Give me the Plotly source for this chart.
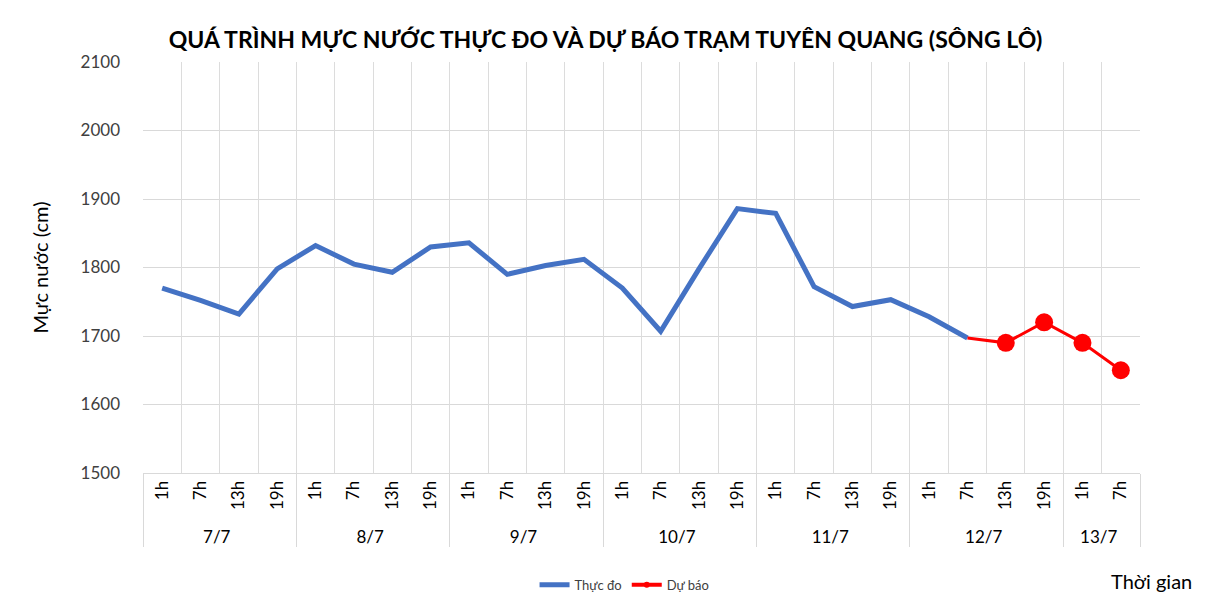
import plotly.graph_objects as go

days = ["7/7"] * 4 + ["8/7"] * 4 + ["9/7"] * 4 + ["10/7"] * 4 + ["11/7"] * 4 + ["12/7"] * 4 + ["13/7"] * 2
hours = ["1h", "7h", "13h", "19h"] * 6 + ["1h", "7h"]

observed = [1770, 1752, 1732, 1798, 1832, 1805, 1793, 1830, 1836, 1790, 1803, 1812,
            1770, 1707, 1798, 1886, 1879, 1772, 1743, 1753, 1728, 1697]
forecast = [1697, 1690, 1720, 1690, 1650]
forecast_start = 21

y_ticks = [1500, 1600, 1700, 1800, 1900, 2000, 2100]

n = len(days)
obs_x = [days[:len(observed)], hours[:len(observed)]]
fc_x = [days[forecast_start:forecast_start + len(forecast)], hours[forecast_start:forecast_start + len(forecast)]]

fig = go.Figure()
fig.add_trace(go.Scatter(x=obs_x, y=observed, mode="lines", name="Thực đo",
                         line=dict(color="#4472C4", width=5)))
fig.add_trace(go.Scatter(x=fc_x, y=forecast, mode="lines+markers", name="Dự báo",
                         line=dict(color="#FF0000", width=3), showlegend=False,
                         marker=dict(color="#FF0000", opacity=1, line=dict(width=0),
                                     size=[0] + [18] * (len(forecast) - 1))))
# legend entry for the forecast series (small marker like the reference legend)
fig.add_trace(go.Scatter(x=[fc_x[0][:1], fc_x[1][:1]], y=[None], mode="lines+markers", name="Dự báo",
                         line=dict(color="#FF0000", width=4),
                         marker=dict(color="#FF0000", size=6)))
# invisible trace for boundary gridline axis
fig.add_trace(go.Scatter(x=[0], y=[1500], xaxis="x2", mode="markers",
                         marker=dict(opacity=0), showlegend=False, hoverinfo="skip"))

fig.update_layout(
    width=1195, height=586,
    margin=dict(l=135, r=63, t=54, b=121, autoexpand=False),
    paper_bgcolor="white", plot_bgcolor="white",
    font=dict(family="Lato, Open Sans, sans-serif", color="#404040"),
    title=dict(text="<b>QUÁ TRÌNH MỰC NƯỚC THỰC ĐO VÀ DỰ BÁO TRẠM TUYÊN QUANG (SÔNG LÔ)</b>",
               x=0.5, xanchor="center", y=0.945, yanchor="middle",
               font=dict(size=23, color="#000000", family="Lato, Open Sans, sans-serif")),
    xaxis=dict(type="multicategory", range=[-0.5, n - 0.5],
               showgrid=True, gridcolor="#ececec", gridwidth=1,
               tickangle=-90, tickfont=dict(size=17, color="#000000"),
               showdividers=True, dividercolor="#d9d9d9", dividerwidth=1,
               showline=True, linecolor="#d9d9d9", linewidth=1, ticks="", automargin=False),
    xaxis2=dict(overlaying="x", range=[-0.5, n - 0.5], tick0=-0.5, dtick=1,
                showgrid=True, gridcolor="#dcdcdc", gridwidth=1,
                showticklabels=False, ticks="", zeroline=False, side="bottom"),
    yaxis=dict(range=[1500, 2100], tickvals=y_ticks, showgrid=True, gridcolor="#d9d9d9",
               zeroline=False, tickfont=dict(size=17, color="#404040"), ticks="",
               ticklabelstandoff=22, automargin=False,
               title=dict(text="Mực nước (cm)", font=dict(size=20, color="#000000"), standoff=26)),
    legend=dict(orientation="h", x=0.483, xanchor="center", y=-0.272, yanchor="middle",
                font=dict(size=13, color="#404040"), bgcolor="rgba(0,0,0,0)"),
    annotations=[dict(text="Thời gian", xref="paper", yref="paper", x=1.012, y=-0.262,
                      xanchor="center", yanchor="middle", showarrow=False,
                      font=dict(size=20, color="#000000"))],
)
fig.write_html("out.html")
